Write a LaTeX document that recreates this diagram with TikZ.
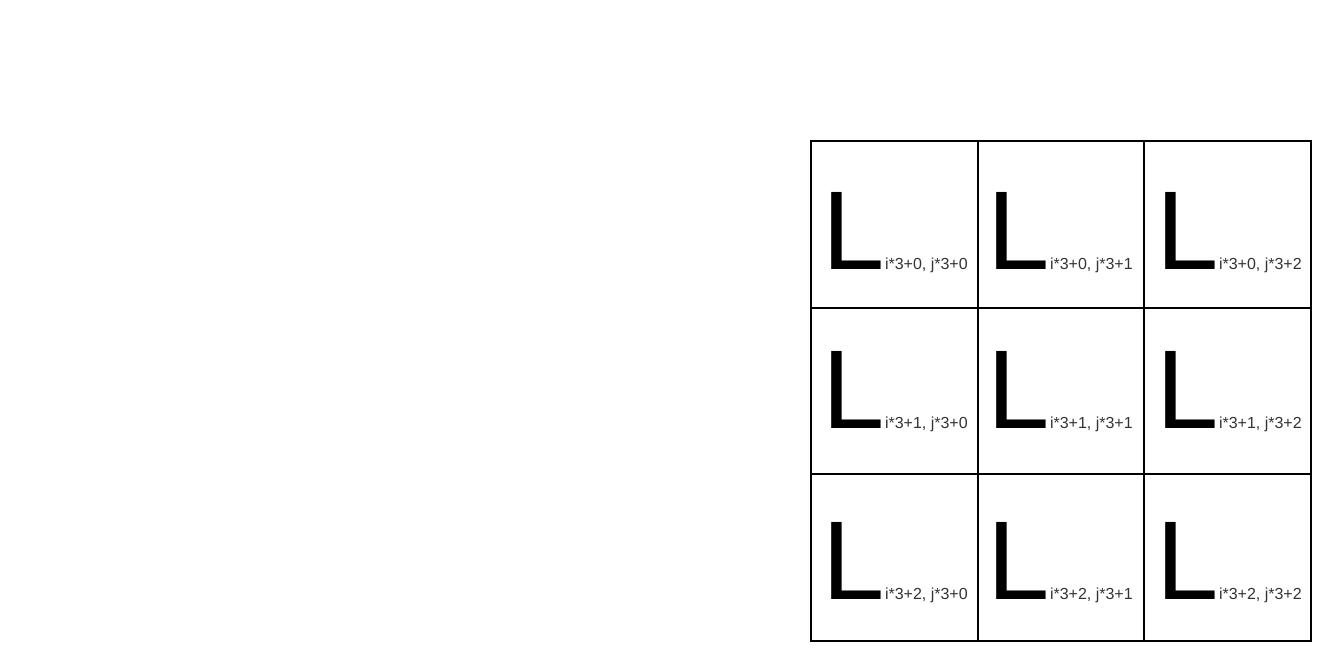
\documentclass[tikz,border=0pt]{standalone}
\usepackage{fontspec}
\setmainfont{Liberation Sans}
\definecolor{labelgray}{HTML}{333333}
\tikzset{
  cell/.style={draw=black, line width=2pt, minimum width=166.667pt, minimum height=166.667pt, inner sep=0pt, anchor=north west},
  lbl/.style={inner sep=0pt, anchor=base west},
}
\newcommand{\cellL}[1]{{\fontsize{112}{112}\selectfont L}{\fontsize{16}{16}\selectfont\color{labelgray}#1}}
\begin{document}
\begin{tikzpicture}[x=1pt,y=-1pt]
\useasboundingbox (0,0) rectangle (1338,660);
% grid cells
\node[cell] (c00) at (810,140) {};
\node[cell] (c01) at (976.667,140) {};
\node[cell] (c02) at (1143.333,140) {};
\node[cell] (c10) at (810,306.667) {};
\node[cell] (c11) at (976.667,306.667) {};
\node[cell] (c12) at (1143.333,306.667) {};
\node[cell] (c20) at (810,473.333) {};
\node[cell] (c21) at (976.667,473.333) {};
\node[cell] (c22) at (1143.333,473.333) {};
% labels
\node[lbl] (t00) at (822.5,269.5) {\cellL{i*3+0, j*3+0}};
\node[lbl] (t01) at (987.5,269.5) {\cellL{i*3+0, j*3+1}};
\node[lbl] (t02) at (1156.5,269.5) {\cellL{i*3+0, j*3+2}};
\node[lbl] (t10) at (822.5,428) {\cellL{i*3+1, j*3+0}};
\node[lbl] (t11) at (987.5,428) {\cellL{i*3+1, j*3+1}};
\node[lbl] (t12) at (1156.5,428) {\cellL{i*3+1, j*3+2}};
\node[lbl] (t20) at (822.5,599) {\cellL{i*3+2, j*3+0}};
\node[lbl] (t21) at (987.5,599) {\cellL{i*3+2, j*3+1}};
\node[lbl] (t22) at (1156.5,599) {\cellL{i*3+2, j*3+2}};
\end{tikzpicture}
\end{document}
